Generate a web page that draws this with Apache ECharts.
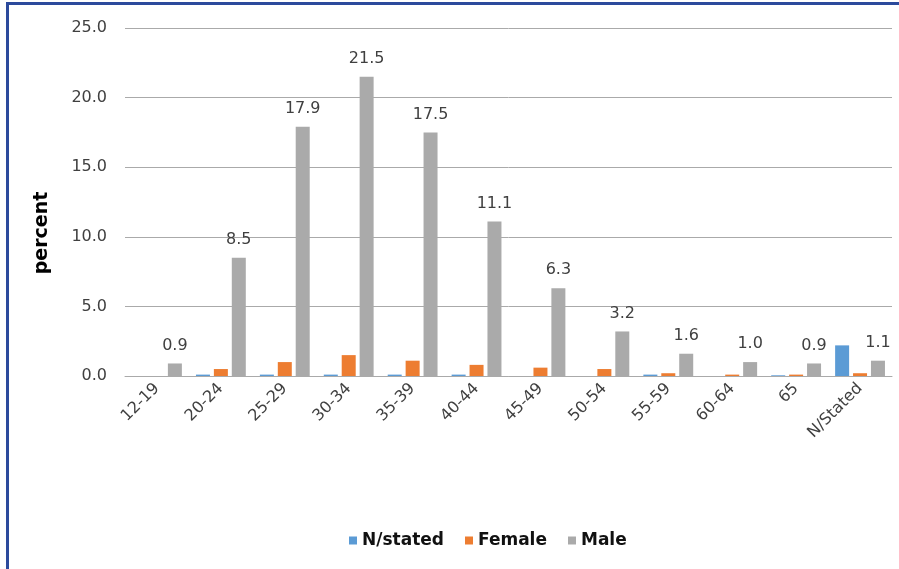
<!DOCTYPE html>
<html>
<head>
<meta charset="utf-8">
<script src="https://cdn.jsdelivr.net/npm/echarts@6/dist/echarts.min.js"></script>
<style>
html,body{margin:0;padding:0;background:#fff;}
#chart{width:899px;height:569px;}
</style>
</head>
<body>
<div id="chart"></div>
<script>
const categories = ['12-19','20-24','25-29','30-34','35-39','40-44','45-49','50-54','55-59','60-64','65','N/Stated'];
const nStated = [0, 0.1, 0.1, 0.1, 0.1, 0.1, 0, 0, 0.1, 0, 0.05, 2.2];
const female = [0, 0.5, 1.0, 1.5, 1.1, 0.8, 0.6, 0.5, 0.2, 0.1, 0.1, 0.2];
const male = [0.9, 8.5, 17.9, 21.5, 17.5, 11.1, 6.3, 3.2, 1.6, 1.0, 0.9, 1.1];
const yTicks = { min: 0, max: 25, interval: 5 };

const font = 'DejaVu Sans';
const chart = echarts.init(document.getElementById('chart'));
chart.setOption({
  animation: false,
  textStyle: { fontFamily: font },
  grid: { left: 125, right: 7, top: 28, bottom: 193, containLabel: false },
  legend: {
    left: 344, top: 527,
    itemWidth: 8, itemHeight: 8, itemGap: 21,
    icon: 'rect',
    textStyle: { fontFamily: font, fontSize: 17, fontWeight: 'bold', color: '#111' },
    data: ['N/stated', 'Female', 'Male']
  },
  xAxis: {
    type: 'category',
    data: categories,
    axisLine: { show: true, lineStyle: { color: '#aaa' } },
    axisTick: { show: false },
    axisLabel: { rotate: 45, fontSize: 16, color: '#404040', margin: 10, fontFamily: font }
  },
  yAxis: {
    type: 'value',
    min: yTicks.min, max: yTicks.max, interval: yTicks.interval,
    axisLine: { show: false },
    axisTick: { show: false },
    axisLabel: { formatter: v => v.toFixed(1), fontSize: 16, color: '#404040', margin: 18, fontFamily: font },
    splitLine: { lineStyle: { color: '#aaa', width: 1 } }
  },
  series: [
    { name: 'N/stated', type: 'bar', data: nStated, barWidth: 14, barGap: '28%', barCategoryGap: '22%', itemStyle: { color: '#5b9bd5' } },
    { name: 'Female', type: 'bar', data: female, barWidth: 14, barGap: '28%', itemStyle: { color: '#ed7d31' } },
    { name: 'Male', type: 'bar', data: male, barWidth: 14, barGap: '28%', itemStyle: { color: '#aaaaaa' },
      label: { show: true, position: 'top', distance: 10, fontSize: 16, color: '#404040', fontFamily: font, formatter: p => p.value.toFixed(1) } }
  ],
  graphic: [
    { type: 'rect', shape: { x: 6, y: 2, width: 893, height: 3 }, style: { fill: '#2c4a9c' }, silent: true },
    { type: 'rect', shape: { x: 6, y: 2, width: 3, height: 567 }, style: { fill: '#2c4a9c' }, silent: true },
    { type: 'text', x: 42, y: 233, rotation: Math.PI / 2,
      style: { text: 'percent', font: 'bold 19px ' + font, fill: '#000', align: 'center', verticalAlign: 'middle' } }
  ]
});
</script>
</body>
</html>
